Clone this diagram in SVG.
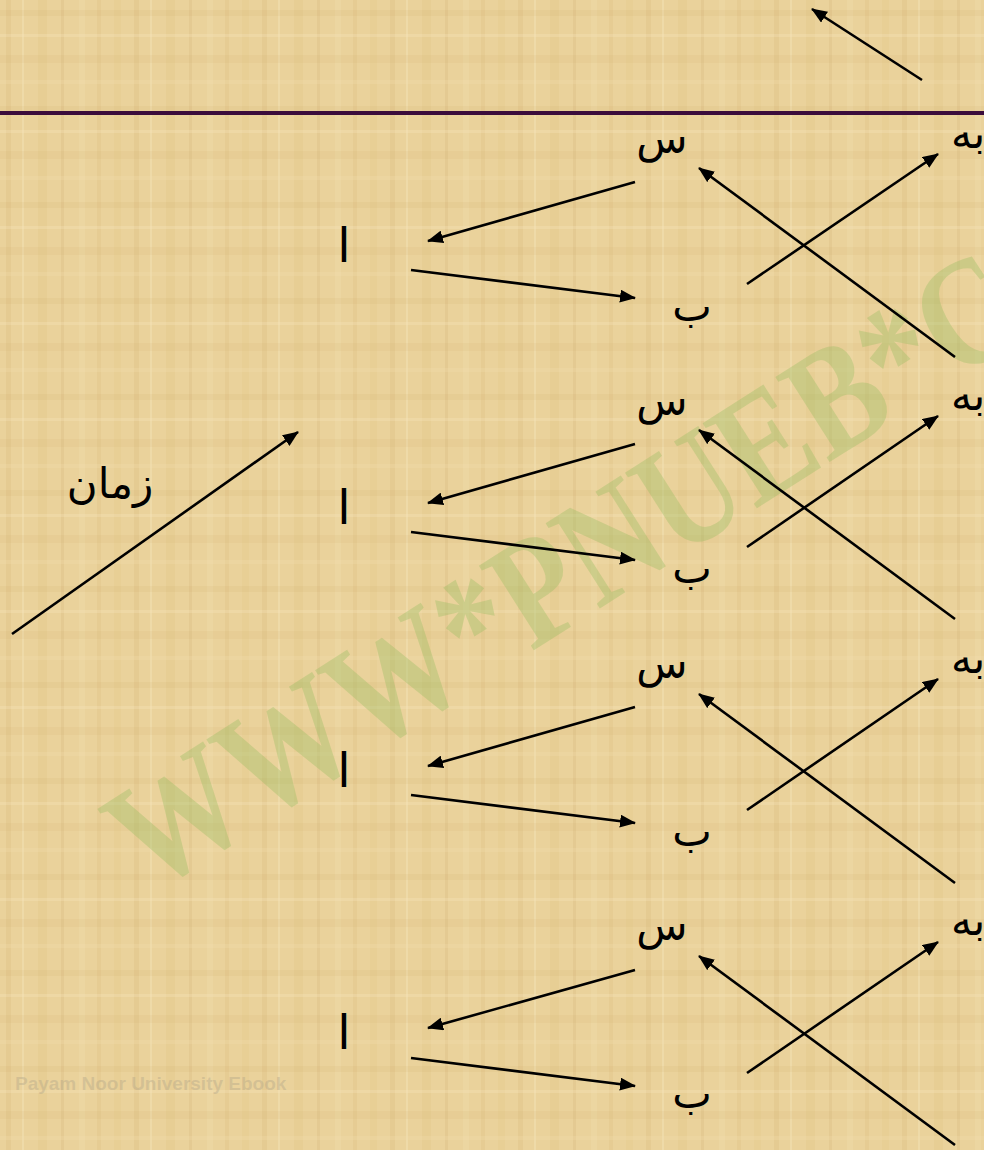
<svg xmlns="http://www.w3.org/2000/svg" width="984" height="1150" viewBox="0 0 984 1150">
  <style>
    .lbl { font-family: "DejaVu Sans", "Noto Sans", sans-serif; font-size: 42px; fill: #000; text-anchor: middle; }
    .alef { font-size: 48px; }
    .con { stroke: #000; stroke-width: 2.6; fill: none; marker-end: url(#ah); }
    .wm { font-family: "Liberation Serif", serif; font-weight: bold; fill: #93BD5E; fill-opacity: 0.34; }
    .pnu { font-family: "Liberation Sans", sans-serif; font-weight: bold; font-size: 19px; fill: #A89E86; fill-opacity: 0.35; }
  </style>
  <defs>
    <marker id="ah" viewBox="0 0 16 13" refX="15" refY="6.5" markerWidth="16" markerHeight="13" orient="auto" markerUnits="userSpaceOnUse">
      <path d="M0,0 L16,6.5 L0,13 z" fill="#000"/>
    </marker>
    <pattern id="pap" width="128" height="96" patternUnits="userSpaceOnUse">
      <rect width="128" height="96" fill="#EAD29B"/>
      <rect x="6" width="5" height="96" fill="#C9A45E" opacity="0.14"/>
      <rect x="22" width="2" height="96" fill="#F6E6BE" opacity="0.35"/>
      <rect x="38" width="9" height="96" fill="#D9B971" opacity="0.16"/>
      <rect x="61" width="3" height="96" fill="#B99450" opacity="0.12"/>
      <rect x="79" width="6" height="96" fill="#F3E0B0" opacity="0.3"/>
      <rect x="97" width="4" height="96" fill="#C9A45E" opacity="0.12"/>
      <rect x="114" width="7" height="96" fill="#E0C27C" opacity="0.2"/>
      <rect y="10" width="128" height="6" fill="#C9A45E" opacity="0.1"/>
      <rect y="34" width="128" height="3" fill="#F6E6BE" opacity="0.28"/>
      <rect y="55" width="128" height="8" fill="#D4B36C" opacity="0.12"/>
      <rect y="80" width="128" height="4" fill="#F3E0B0" opacity="0.25"/>
    </pattern>
  </defs>

  <rect width="984" height="1150" fill="url(#pap)"/>

  <!-- watermark -->
  <text class="wm" x="0" y="0" font-size="140" transform="translate(150,895) rotate(-32.5) scale(1,1.1)" textLength="1270" lengthAdjust="spacingAndGlyphs">WWW*PNUEB*COM</text>
  <text class="pnu" x="15" y="1090">Payam Noor University Ebook</text>

  <!-- divider -->
  <rect x="0" y="111" width="984" height="4" fill="#3B0C3B"/>

  <g id="connectors">
    <line class="con" x1="922" y1="80" x2="812" y2="9"/>
    <line class="con" x1="12" y1="634" x2="298" y2="432"/>
    <!-- block 1 -->
    <line class="con" x1="635" y1="182" x2="428" y2="241"/>
    <line class="con" x1="411" y1="270" x2="635" y2="298"/>
    <line class="con" x1="747" y1="284" x2="938" y2="154"/>
    <line class="con" x1="955" y1="357" x2="699" y2="168"/>
    <!-- block 2 -->
    <line class="con" x1="635" y1="444" x2="428" y2="503"/>
    <line class="con" x1="411" y1="532" x2="635" y2="560"/>
    <line class="con" x1="747" y1="547" x2="938" y2="416"/>
    <line class="con" x1="955" y1="619" x2="699" y2="430"/>
    <!-- block 3 -->
    <line class="con" x1="635" y1="707" x2="428" y2="766"/>
    <line class="con" x1="411" y1="795" x2="635" y2="823"/>
    <line class="con" x1="747" y1="810" x2="938" y2="679"/>
    <line class="con" x1="955" y1="883" x2="699" y2="694"/>
    <!-- block 4 -->
    <line class="con" x1="635" y1="970" x2="428" y2="1028"/>
    <line class="con" x1="411" y1="1058" x2="635" y2="1086"/>
    <line class="con" x1="747" y1="1073" x2="938" y2="942"/>
    <line class="con" x1="955" y1="1145" x2="699" y2="956"/>
  </g>

  <g id="time"><text class="lbl" x="110" y="498">زمان</text></g>

  <g id="a1"><text class="lbl alef" x="344" y="262">ا</text></g>
  <g id="s1"><text class="lbl" x="662" y="153">س</text></g>
  <g id="b1"><text class="lbl" x="692" y="321">ب</text></g>
  <g id="be1"><text class="lbl" x="968" y="148">به</text></g>

  <g id="a2"><text class="lbl alef" x="344" y="524">ا</text></g>
  <g id="s2"><text class="lbl" x="662" y="415">س</text></g>
  <g id="b2"><text class="lbl" x="692" y="583">ب</text></g>
  <g id="be2"><text class="lbl" x="968" y="410">به</text></g>

  <g id="a3"><text class="lbl alef" x="344" y="787">ا</text></g>
  <g id="s3"><text class="lbl" x="662" y="678">س</text></g>
  <g id="b3"><text class="lbl" x="692" y="846">ب</text></g>
  <g id="be3"><text class="lbl" x="968" y="673">به</text></g>

  <g id="a4"><text class="lbl alef" x="344" y="1049">ا</text></g>
  <g id="s4"><text class="lbl" x="662" y="940">س</text></g>
  <g id="b4"><text class="lbl" x="692" y="1108">ب</text></g>
  <g id="be4"><text class="lbl" x="968" y="935">به</text></g>
</svg>
